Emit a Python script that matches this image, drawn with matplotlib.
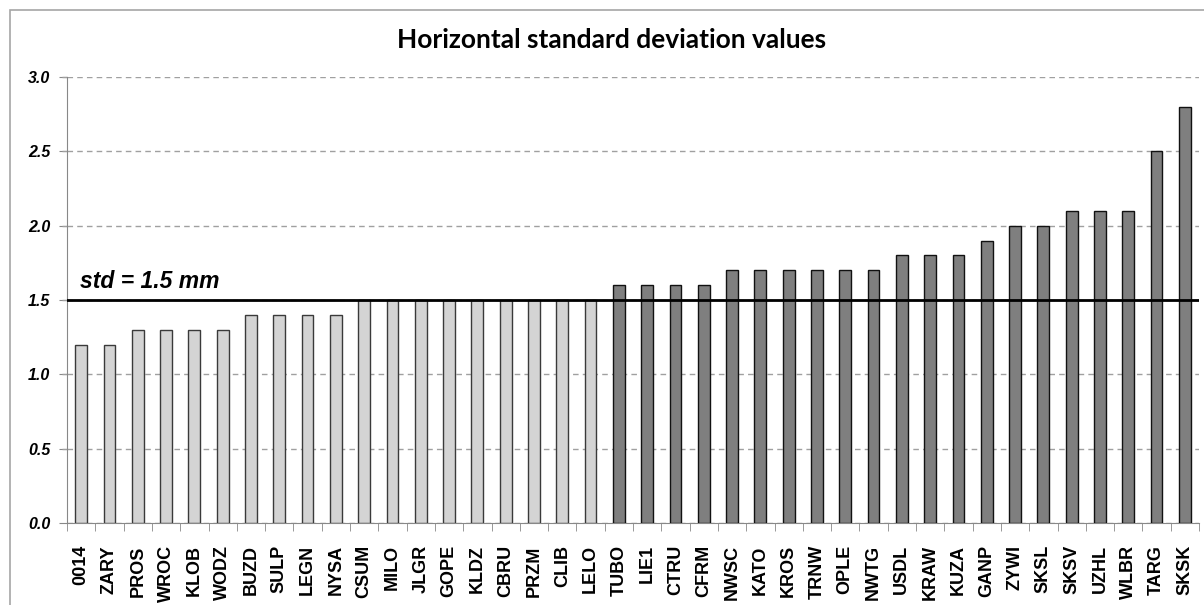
import matplotlib
matplotlib.use("Agg")
import matplotlib.pyplot as plt
from matplotlib.patches import Rectangle

stations = ["0014", "ZARY", "PROS", "WROC", "KLOB", "WODZ", "BUZD", "SULP", "LEGN", "NYSA",
            "CSUM", "MILO", "JLGR", "GOPE", "KLDZ", "CBRU", "PRZM", "CLIB", "LELO", "TUBO",
            "LIE1", "CTRU", "CFRM", "NWSC", "KATO", "KROS", "TRNW", "OPLE", "NWTG", "USDL",
            "KRAW", "KUZA", "GANP", "ZYWI", "SKSL", "SKSV", "UZHL", "WLBR", "TARG", "SKSK"]
std_values = [1.2, 1.2, 1.3, 1.3, 1.3, 1.3, 1.4, 1.4, 1.4, 1.4,
              1.5, 1.5, 1.5, 1.5, 1.5, 1.5, 1.5, 1.5, 1.5, 1.6,
              1.6, 1.6, 1.6, 1.7, 1.7, 1.7, 1.7, 1.7, 1.7, 1.8,
              1.8, 1.8, 1.9, 2.0, 2.0, 2.1, 2.1, 2.1, 2.5, 2.8]
threshold = 1.5
y_ticks = [0.0, 0.5, 1.0, 1.5, 2.0, 2.5, 3.0]

fig = plt.figure(figsize=(12.04, 6.05), dpi=100)
# thin grey frame like the spreadsheet chart area
fig.patches.append(Rectangle((10 / 1204, -0.1), 1.2, 1 - 10 / 605 + 0.1,
                             transform=fig.transFigure, fill=False,
                             edgecolor="#a6a6a6", linewidth=1.2))

ax = fig.add_axes([67 / 1204, 1 - 523 / 605, (1199 - 67) / 1204, (523 - 77) / 605])

x = range(len(stations))
colors = ["#d4d4d4" if v <= threshold else "#7f7f7f" for v in std_values]
edges = ["#3a3a3a" if v <= threshold else "#111111" for v in std_values]
ax.bar(x, std_values, width=0.42, color=colors, edgecolor=edges, linewidth=1.0, zorder=3)

ax.axhline(threshold, color="black", linewidth=2, zorder=4)
ax.text(-0.05, threshold + 0.05, "std = 1.5 mm", fontsize=16.5, fontweight="bold",
        fontstyle="italic", family="Liberation Sans", ha="left", va="bottom", zorder=5)

ax.set_xlim(-0.5, len(stations) - 0.5)
ax.set_ylim(0, 3.0)
ax.set_yticks(y_ticks)
ax.set_yticklabels([f"{t:.1f}" for t in y_ticks], fontsize=11.5, fontweight="bold",
                   fontstyle="italic", family="Liberation Sans")
ax.yaxis.grid(True, linestyle=(0, (4, 3)), color="#a0a0a0", linewidth=1, zorder=0)
for t in y_ticks[1:]:
    ax.plot([-0.5 - 0.18, -0.5], [t, t], color="#a0a0a0", linewidth=1,
            linestyle=(0, (4, 3)), clip_on=False)

ax.set_xticks(list(x))
ax.set_xticklabels(stations, rotation=90, fontsize=13, fontweight="bold",
                   family="Liberation Sans")
ax.set_xticks([i - 0.5 for i in range(len(stations) + 1)], minor=True)
ax.tick_params(axis="x", which="major", length=0, pad=16)
ax.tick_params(axis="x", which="minor", length=6, color="#888888")
ax.tick_params(axis="y", length=6, color="#888888", pad=6)

for side in ["top", "right"]:
    ax.spines[side].set_visible(False)
ax.spines["left"].set_color("#888888")
ax.spines["bottom"].set_color("#888888")

fig.text(612 / 1204, 1 - 40 / 605, "Horizontal standard deviation values",
         fontsize=19, fontweight="bold", family="Lato", ha="center", va="center")

fig.savefig("out.png", dpi=100)
